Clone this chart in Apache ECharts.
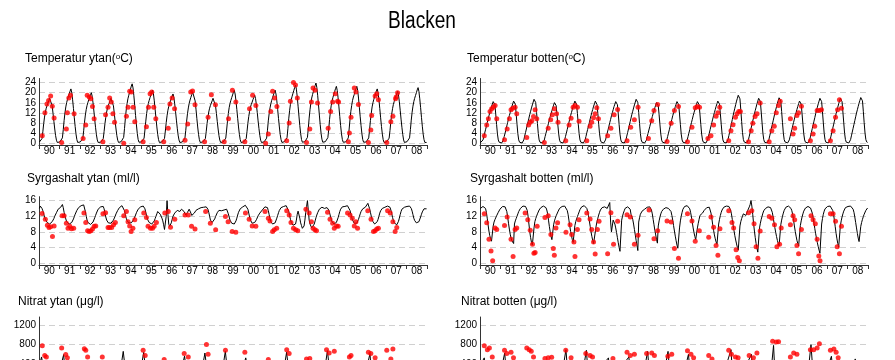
<!DOCTYPE html>
<html><head><meta charset="utf-8">
<script src="https://cdn.jsdelivr.net/npm/echarts@6/dist/echarts.min.js"></script>
<style>html,body{margin:0;padding:0;background:#fff}#c{width:895px;height:360px}</style>
</head><body><div id="c"></div>
<script>
// ---------- DATA ----------
const yearLabels = ['90','91','92','93','94','95','96','97','98','99','00','01','02','03','04','05','06','07','08'];
const tempTicks = [0,4,8,12,16,20,24];
const oxyTicks = [0,4,8,12,16];
const nitTicks = [0,400,800,1200];

// model lines, 24 values per year (semi-monthly), 1990-2008
const tempYtanLine = [
[0.6,0.2,0.4,1.9,4.6,7.8,10.4,12.4,13.9,15.0,15.9,16.8,17.8,18.5,17.2,14.8,11.8,8.7,5.7,3.1,1.3,0.4,0.2,0.4],
[0.6,0.2,0.4,2.2,5.4,9.0,12.0,14.4,16.1,17.4,18.5,19.6,20.6,21.5,20.0,17.2,13.8,10.1,6.7,3.7,1.5,0.4,0.2,0.4],
[0.6,0.2,0.4,2.0,5.0,8.4,11.2,13.4,15.0,16.2,17.2,18.2,19.2,20.0,18.6,16.0,12.8,9.4,6.2,3.4,1.4,0.4,0.2,0.4],
[0.5,0.2,0.3,1.9,4.7,7.8,10.3,12.4,13.9,15.0,15.9,16.9,17.8,18.5,17.1,14.8,11.8,8.7,5.7,3.1,1.3,0.4,0.2,0.4],
[0.7,0.2,0.5,2.4,5.9,9.9,13.2,15.7,17.6,19.0,20.2,21.4,22.6,23.5,21.9,18.8,15.0,11.0,7.3,4.0,1.6,0.5,0.2,0.5],
[0.6,0.2,0.4,2.1,5.3,8.8,11.8,14.1,15.8,17.0,18.1,19.1,20.2,21.0,19.5,16.8,13.4,9.9,6.5,3.6,1.5,0.4,0.2,0.4],
[0.6,0.2,0.4,2.0,4.9,8.2,10.9,13.1,14.6,15.8,16.8,17.7,18.7,19.5,18.1,15.6,12.5,9.2,6.0,3.3,1.4,0.4,0.2,0.4],
[0.6,0.2,0.4,2.1,5.2,8.8,11.7,14.0,15.8,17.1,18.2,19.2,20.3,21.0,19.6,16.8,13.5,9.9,6.5,3.6,1.5,0.4,0.2,0.4],
[0.6,0.2,0.4,1.9,4.6,7.8,10.4,12.4,13.9,15.0,15.9,16.8,17.8,18.5,17.2,14.8,11.8,8.7,5.7,3.1,1.3,0.4,0.2,0.4],
[0.6,0.2,0.4,2.1,5.3,8.8,11.8,14.1,15.8,17.0,18.1,19.1,20.2,21.0,19.5,16.8,13.4,9.9,6.5,3.6,1.5,0.4,0.2,0.4],
[0.6,0.2,0.4,1.9,4.8,8.0,10.6,12.7,14.3,15.4,16.3,17.3,18.2,19.0,17.7,15.2,12.2,8.9,5.9,3.2,1.3,0.4,0.2,0.4],
[0.6,0.2,0.4,2.1,5.2,8.9,11.8,14.0,15.7,17.0,18.0,19.1,20.1,21.0,19.5,16.8,13.4,9.8,6.5,3.5,1.5,0.4,0.2,0.4],
[0.7,0.2,0.5,2.3,5.8,9.7,12.9,15.4,17.3,18.6,19.8,20.9,22.1,23.0,21.4,18.4,14.7,10.8,7.1,3.9,1.6,0.5,0.2,0.5],
[0.7,0.2,0.5,2.4,6.0,10.0,13.3,15.9,17.9,19.3,20.5,21.7,22.8,23.8,22.1,19.0,15.2,11.2,7.4,4.0,1.7,0.5,0.2,0.5],
[0.7,0.2,0.5,2.3,5.6,9.5,12.6,15.1,16.9,18.2,19.4,20.5,21.6,22.5,20.9,18.0,14.4,10.6,7.0,3.8,1.6,0.5,0.2,0.5],
[0.6,0.2,0.5,2.2,5.7,9.4,12.7,15.0,17.0,18.3,19.3,20.6,21.5,22.5,21.0,17.9,14.3,10.5,7.0,3.8,1.5,0.5,0.2,0.5],
[0.6,0.2,0.4,2.2,5.4,9.0,12.0,14.4,16.1,17.4,18.5,19.6,20.6,21.5,20.0,17.2,13.8,10.1,6.7,3.7,1.5,0.4,0.2,0.4],
[0.6,0.2,0.4,2.1,5.1,8.6,11.5,13.7,15.4,16.6,17.6,18.7,19.7,20.5,19.1,16.4,13.1,9.6,6.4,3.5,1.4,0.4,0.2,0.4],
[0.7,0.2,0.4,2.2,5.5,9.2,12.3,14.7,16.5,17.8,18.9,20.0,21.1,22.0,20.5,17.6,14.1,10.3,6.8,3.7,1.5,0.4,0.2,0.4]
].flat();

const tempBottenLine = [
[0.3,0.2,0.3,1.4,2.7,4.1,5.4,6.8,8.2,9.5,10.9,12.1,13.3,14.5,15.5,16.5,17.0,15.3,11.6,7.5,3.7,1.4,0.5,0.3],
[0.3,0.2,0.3,1.4,2.8,4.1,5.5,6.9,8.3,9.6,11.0,12.2,13.4,14.6,15.7,16.7,17.2,15.5,11.7,7.6,3.8,1.4,0.5,0.3],
[0.4,0.2,0.4,1.4,2.9,4.3,5.7,7.2,8.6,10.0,11.5,12.7,14.0,15.2,16.3,17.4,17.9,16.1,12.2,7.9,3.9,1.4,0.5,0.4],
[0.3,0.2,0.3,1.3,2.7,4.0,5.3,6.6,8.0,9.3,10.6,11.8,12.9,14.1,15.1,16.1,16.6,14.9,11.3,7.3,3.7,1.3,0.5,0.3],
[0.3,0.2,0.3,1.4,2.8,4.1,5.5,6.9,8.3,9.6,11.0,12.2,13.4,14.6,15.7,16.7,17.2,15.5,11.7,7.6,3.8,1.4,0.5,0.3],
[0.3,0.2,0.3,1.4,2.7,4.2,5.5,6.9,8.2,9.7,11.0,12.3,13.4,14.7,15.6,16.7,17.2,15.4,11.8,7.6,3.8,1.4,0.5,0.3],
[0.3,0.2,0.3,1.4,2.7,4.1,5.4,6.8,8.2,9.5,10.9,12.1,13.3,14.5,15.5,16.5,17.0,15.3,11.6,7.5,3.7,1.4,0.5,0.3],
[0.4,0.2,0.4,1.4,2.9,4.3,5.7,7.2,8.6,10.0,11.5,12.7,14.0,15.2,16.3,17.4,17.9,16.1,12.2,7.9,3.9,1.4,0.5,0.4],
[0.3,0.2,0.3,1.3,2.7,4.0,5.3,6.6,8.0,9.3,10.6,11.8,12.9,14.1,15.1,16.1,16.6,14.9,11.3,7.3,3.7,1.3,0.5,0.3],
[0.3,0.2,0.3,1.4,2.7,4.1,5.4,6.8,8.2,9.5,10.9,12.1,13.3,14.5,15.5,16.5,17.0,15.3,11.6,7.5,3.7,1.4,0.5,0.3],
[0.3,0.2,0.3,1.4,2.7,4.1,5.4,6.8,8.2,9.5,10.9,12.1,13.3,14.5,15.5,16.5,17.0,15.3,11.6,7.5,3.7,1.4,0.5,0.3],
[0.3,0.2,0.3,1.4,2.8,4.1,5.5,6.9,8.3,9.6,11.0,12.2,13.4,14.6,15.7,16.7,17.2,15.5,11.7,7.6,3.8,1.4,0.5,0.3],
[0.4,0.2,0.4,1.6,3.1,4.7,6.3,7.8,9.4,11.0,12.5,13.9,15.3,16.7,17.8,19.0,19.6,17.6,13.3,8.6,4.3,1.6,0.6,0.4],
[0.4,0.2,0.4,1.5,2.9,4.4,5.9,7.3,8.8,10.2,11.7,13.0,14.3,15.6,16.7,17.8,18.3,16.5,12.4,8.1,4.0,1.5,0.5,0.4],
[0.4,0.2,0.4,1.5,3.0,4.5,6.0,7.4,8.9,10.4,11.9,13.2,14.5,15.8,16.9,18.0,18.6,16.7,12.6,8.2,4.1,1.5,0.6,0.4],
[0.3,0.2,0.3,1.4,2.8,4.1,5.5,6.9,8.3,9.6,11.0,12.2,13.4,14.6,15.7,16.7,17.2,15.5,11.7,7.6,3.8,1.4,0.5,0.3],
[0.4,0.2,0.4,1.5,2.9,4.4,5.9,7.3,8.8,10.2,11.7,13.0,14.3,15.6,16.7,17.8,18.3,16.5,12.4,8.1,4.0,1.5,0.5,0.4],
[0.4,0.2,0.4,1.5,2.9,4.4,5.9,7.3,8.8,10.2,11.7,13.0,14.3,15.6,16.7,17.8,18.3,16.5,12.4,8.1,4.0,1.5,0.5,0.4],
[0.4,0.2,0.4,1.5,3.0,4.5,6.0,7.5,9.0,10.5,12.0,13.3,14.6,15.9,17.0,18.1,18.7,16.8,12.7,8.2,4.1,1.5,0.6,0.4]
].flat();

const oxyYtanLine = [
[14.0,14.6,14.4,14.0,13.4,12.6,11.8,11.2,10.8,10.4,10.2,10.1,10.0,10.1,10.3,10.6,10.9,11.4,12.0,12.5,12.9,13.4,13.8,14.0],
[14.2,14.3,14.6,15.0,14.2,13.0,12.1,11.3,10.6,10.3,10.1,10.0,10.0,10.2,10.4,10.8,11.3,11.9,12.5,13.0,13.5,13.9,14.2,14.4],
[14.5,14.7,14.8,15.0,14.9,14.5,13.2,12.0,11.0,10.4,10.1,10.0,9.9,10.0,10.2,10.5,11.0,11.6,12.2,12.8,13.3,13.8,14.1,14.3],
[14.4,14.6,14.7,14.5,13.9,12.8,11.8,11.0,10.6,10.3,10.2,10.1,10.2,10.4,10.6,11.0,11.5,12.0,12.6,13.1,13.5,13.9,14.2,14.4],
[14.5,14.7,14.6,14.2,13.4,12.4,11.5,10.9,10.5,10.3,10.2,10.2,10.3,10.5,10.8,11.2,11.7,12.3,12.9,13.4,13.8,14.1,14.3,14.4],
[14.5,14.7,14.6,14.4,13.9,13.0,12.0,11.2,10.7,10.4,10.2,10.0,10.0,10.1,10.4,10.8,11.4,12.0,12.6,13.2,13.4,13.0,12.5,12.0],
[11.5,10.8,9.8,8.6,8.2,12.0,16.0,12.5,10.0,9.4,9.6,10.3,11.2,12.0,12.5,12.8,13.0,13.3,13.5,13.6,13.5,13.2,13.4,13.8],
[13.8,13.5,13.2,12.8,12.3,12.6,13.0,13.5,13.8,13.4,12.8,12.2,12.0,12.3,12.8,13.2,13.5,13.6,13.8,13.9,14.0,14.1,14.2,14.3],
[14.2,14.3,14.4,14.5,14.4,14.2,13.8,13.0,12.0,11.0,10.5,10.4,10.5,10.8,11.3,11.9,12.4,12.9,13.2,13.5,13.6,13.5,13.4,13.6],
[13.8,13.6,13.9,14.0,13.8,13.3,12.6,11.8,11.0,10.5,10.2,10.0,9.9,10.0,10.3,10.8,11.5,12.3,13.0,13.5,13.9,14.1,14.3,14.4],
[14.5,14.6,14.8,15.0,14.6,13.8,12.8,11.8,11.0,10.5,10.2,10.1,10.2,10.4,10.7,11.1,11.6,12.1,12.5,12.8,13.0,13.3,13.6,13.9],
[14.1,14.4,14.5,14.6,14.2,13.4,12.4,11.4,10.6,10.2,10.0,9.9,10.0,10.3,10.8,11.5,12.2,12.9,13.5,14.0,14.2,14.3,14.4,14.5],
[14.5,14.6,14.7,14.6,14.2,13.3,12.2,11.2,10.4,10.0,9.7,9.5,9.6,10.0,11.0,12.5,13.3,12.8,11.5,10.3,9.6,8.9,8.5,9.5],
[11.0,13.0,14.5,16.0,13.5,11.0,10.0,9.5,9.0,9.0,9.4,10.0,10.8,11.6,12.3,12.9,13.4,13.8,14.1,14.3,14.3,14.2,14.1,14.0],
[14.0,14.1,14.2,14.0,13.6,12.9,12.0,11.2,10.6,10.2,10.0,10.0,10.1,10.4,10.9,11.6,12.4,13.2,13.8,14.2,14.4,14.5,14.5,14.5],
[14.5,14.6,14.7,14.6,14.2,13.5,12.6,11.7,11.0,10.5,10.2,10.0,10.0,10.2,10.6,11.2,11.9,12.6,13.2,13.6,13.9,14.1,14.2,14.3],
[14.4,14.5,15.3,14.6,14.0,13.0,12.0,11.2,10.6,10.2,10.0,10.0,10.2,10.6,11.2,12.0,12.8,13.4,13.8,14.0,14.1,14.2,14.3,14.4],
[14.5,14.6,14.7,14.6,14.3,13.6,12.7,11.7,10.9,10.3,10.0,9.8,9.8,10.1,10.7,11.5,12.4,13.2,13.8,14.1,14.2,14.3,14.4,14.5],
[14.5,14.6,14.7,14.6,14.4,14.0,13.3,12.4,11.5,10.9,10.5,10.3,10.2,10.3,10.6,11.1,11.8,12.5,13.1,13.6,13.9,14.0,14.0,13.9]
].flat();

const oxyBottenLine = [
[14.0,14.2,14.4,14.5,14.3,14.4,14.0,13.0,11.5,9.8,8.2,7.0,6.2,5.6,5.5,9.5,10.5,11.1,11.6,12.1,12.6,13.0,13.4,13.8],
[14.0,14.3,14.5,14.2,14.6,14.4,14.0,13.2,11.8,10.2,8.7,7.4,6.4,5.7,5.2,5.0,10.0,10.8,11.4,12.0,12.6,13.2,13.7,14.0],
[14.2,14.5,14.6,14.7,14.6,14.5,14.2,13.5,12.0,10.0,8.0,6.5,5.3,4.6,4.5,9.0,10.6,11.4,12.0,12.6,13.1,13.6,14.0,14.2],
[14.3,14.5,14.6,14.5,14.4,14.2,13.6,12.6,11.0,9.4,8.0,6.8,6.0,5.5,9.8,10.8,11.5,12.1,12.6,13.1,13.6,14.0,14.3,14.4],
[14.5,14.6,14.5,14.6,14.4,14.1,13.5,12.5,11.0,9.5,8.1,7.0,6.0,5.3,5.0,9.6,10.6,11.3,11.9,12.5,13.1,13.7,14.1,14.4],
[14.5,14.6,14.7,14.6,14.4,14.0,13.3,12.2,10.8,9.4,8.0,6.8,5.8,5.0,4.6,4.5,9.5,10.6,11.5,12.3,13.0,13.6,14.0,14.2],
[14.0,14.2,14.4,14.3,14.5,14.0,13.5,14.5,15.5,10.5,8.0,9.5,11.0,10.8,10.0,9.0,7.8,6.5,5.2,4.0,3.0,2.5,11.0,12.0],
[12.8,13.4,14.0,14.3,14.5,14.4,14.2,14.3,13.8,12.5,12.0,11.2,10.0,8.6,7.2,5.8,4.5,3.2,10.5,11.6,12.5,13.0,13.3,13.5],
[13.6,13.8,13.9,14.1,14.3,14.4,14.5,14.4,14.2,13.6,12.6,11.2,9.8,8.4,7.2,6.0,5.1,9.5,10.8,11.8,12.6,13.2,13.6,13.8],
[14.0,14.1,14.2,14.0,13.8,14.0,14.1,13.8,13.2,12.2,11.0,9.6,8.2,6.9,5.7,4.6,3.8,3.5,9.0,10.8,12.0,13.0,13.8,14.3],
[14.5,14.6,14.8,14.7,14.6,14.4,13.9,13.0,11.8,10.4,9.0,7.8,6.8,6.0,5.5,9.0,10.2,11.2,12.2,12.6,12.2,12.8,13.3,13.5],
[13.8,14.0,14.2,14.4,14.5,14.3,13.8,12.8,11.4,9.8,8.4,7.2,6.2,5.4,4.8,4.5,10.0,11.2,12.2,13.0,13.6,14.0,14.3,14.5],
[14.5,14.6,14.7,14.6,14.5,14.2,13.6,12.6,11.2,9.7,8.3,7.0,5.9,4.9,4.0,3.3,3.0,9.5,10.6,11.4,12.0,12.6,13.0,12.8],
[12.2,12.8,13.4,13.8,14.4,15.0,16.0,14.6,12.5,10.2,8.2,6.5,5.0,3.8,2.8,2.5,9.0,10.2,11.2,12.0,12.8,13.4,13.8,14.0],
[14.2,14.3,14.4,14.5,14.4,14.2,13.8,13.0,11.8,10.4,9.1,7.9,6.8,5.8,5.0,4.4,4.0,9.8,11.0,12.0,12.8,13.5,14.0,14.3],
[14.4,14.5,14.6,14.5,14.3,14.0,13.4,12.4,11.0,9.5,8.1,6.9,5.8,5.0,4.4,4.0,9.6,10.8,11.8,12.6,13.3,13.8,14.1,14.3],
[14.4,14.5,14.3,14.4,14.1,13.6,12.8,11.6,10.2,8.8,7.5,6.3,5.2,4.2,3.3,2.5,2.0,10.0,11.4,12.5,13.3,13.9,14.2,14.4],
[14.5,14.6,14.7,14.6,14.4,14.1,13.5,12.5,11.0,9.3,7.6,6.2,5.0,4.0,3.5,9.5,10.8,11.8,12.6,13.3,13.8,14.2,14.4,14.5],
[14.5,14.6,14.7,14.6,14.5,14.3,13.8,13.0,11.8,10.4,9.0,7.6,6.4,5.5,5.0,9.4,10.4,11.2,11.9,12.5,13.0,13.5,13.9,14.1]
].flat();

// nitrate model lines, 12 values per year (monthly)
const nitYtanLine = [
[400,544,320,90,20,10,10,20,60,150,260,340],
[380,450,594,120,20,10,10,20,60,140,240,330],
[370,420,300,90,20,10,10,20,60,150,250,330],
[380,440,310,90,20,10,10,20,60,150,250,340],
[420,661,350,100,20,10,10,20,60,150,260,350],
[420,641,330,90,20,10,10,20,60,150,250,330],
[360,420,300,90,20,10,10,20,60,140,240,320],
[400,560,320,90,20,10,10,20,60,150,250,340],
[420,627,330,90,20,10,10,20,60,150,260,350],
[430,661,330,90,20,10,10,20,60,150,250,340],
[400,525,320,90,20,10,10,20,60,150,250,330],
[380,440,300,90,20,10,10,20,60,150,250,330],
[420,641,330,90,20,10,10,20,60,150,260,350],
[390,450,310,90,20,10,10,20,60,150,260,350],
[430,675,340,100,20,10,10,20,60,150,250,330],
[380,440,300,90,20,10,10,20,60,150,250,340],
[390,460,614,120,20,10,10,20,60,150,250,330],
[380,450,310,90,20,10,10,20,60,150,250,330],
[380,440,300,90,20,10,10,20,60,150,250,330]
].flat();

const nitBottenLine = [
[400,460,525,200,60,30,30,50,100,180,270,340],
[380,450,627,220,60,30,30,50,100,180,260,330],
[370,440,430,200,60,30,30,50,100,180,260,330],
[380,450,440,200,60,30,30,50,100,180,260,340],
[400,470,696,230,60,30,30,50,100,180,270,350],
[400,460,683,220,60,30,30,50,100,180,260,330],
[370,440,420,525,80,30,30,50,100,180,250,320],
[380,450,430,545,80,30,30,50,100,180,260,340],
[400,460,661,220,60,30,30,50,100,180,270,350],
[400,470,661,220,60,30,30,50,100,180,260,340],
[390,450,600,210,60,30,30,50,100,180,260,330],
[380,440,430,200,60,30,30,50,100,180,260,330],
[400,460,450,696,90,30,30,50,100,180,270,350],
[390,450,440,600,80,30,30,50,100,180,270,350],
[400,460,480,420,786,60,30,50,100,180,260,330],
[380,440,430,200,60,30,30,50,100,180,260,340],
[390,460,800,300,60,30,30,50,100,180,260,330],
[380,450,558,200,60,30,30,50,100,180,260,330],
[380,440,420,300,503,60,30,50,100,180,260,330]
].flat();

// measurements [decimal year, value]
const tempYtanObs = [
[1990.16,3.0],[1990.29,12.1],[1990.39,15.6],[1990.47,16.9],[1990.57,18.7],[1990.65,14.7],[1990.74,10.0],
[1991.11,0.4],[1991.34,5.7],[1991.39,12.1],[1991.46,17.9],[1991.54,19.0],[1991.72,11.7],
[1992.16,2.0],[1992.29,7.3],[1992.36,19.0],[1992.46,18.3],[1992.54,17.6],[1992.62,14.6],[1992.70,9.7],
[1993.13,0.7],[1993.26,11.3],[1993.38,14.3],[1993.46,17.9],[1993.54,16.3],[1993.62,11.7],[1993.70,8.4],
[1994.15,0.1],[1994.28,10.7],[1994.36,14.3],[1994.44,20.6],[1994.52,20.3],[1994.61,14.3],[1994.69,8.6],
[1995.10,0.7],[1995.26,6.6],[1995.36,14.3],[1995.44,19.6],[1995.52,20.3],[1995.62,14.3],[1995.72,9.7],
[1996.11,0.7],[1996.33,6.0],[1996.41,15.6],[1996.52,17.9],[1996.64,13.7],
[1997.15,1.3],[1997.28,7.7],[1997.43,20.3],[1997.52,20.7],[1997.64,15.3],
[1998.11,0.7],[1998.28,10.3],[1998.44,19.2],[1998.64,15.3],
[1999.07,0.7],[1999.28,9.7],[1999.47,21.0],[1999.64,16.3],
[2000.08,0.7],[2000.31,13.7],[2000.46,19.0],[2000.62,15.0],
[2001.10,0.1],[2001.23,3.7],[2001.35,12.6],[2001.44,20.6],[2001.54,17.9],[2001.65,14.6],
[2002.13,1.1],[2002.25,8.1],[2002.31,16.6],[2002.46,24.0],[2002.56,23.0],[2002.65,17.9],
[2003.10,0.4],[2003.26,5.7],[2003.34,16.3],[2003.42,21.9],[2003.52,21.0],[2003.64,15.9],
[2004.16,6.0],[2004.28,12.6],[2004.38,16.3],[2004.51,19.6],[2004.62,16.6],[2004.67,16.3],
[2005.15,0.7],[2005.20,4.1],[2005.28,10.3],[2005.44,21.9],[2005.52,20.3],[2005.64,15.4],
[2006.13,0.4],[2006.25,5.3],[2006.29,11.0],[2006.46,18.7],[2006.54,19.6],[2006.62,17.2],
[2007.03,0.4],[2007.23,8.6],[2007.33,10.7],[2007.46,17.6],[2007.49,18.3],[2007.56,20.0]
];

const tempBottenObs = [
[1990.21,3.0],[1990.33,7.3],[1990.41,9.7],[1990.49,12.6],[1990.57,13.7],[1990.65,14.3],[1990.74,15.0],[1990.82,9.7],
[1991.20,1.5],[1991.33,5.7],[1991.44,9.7],[1991.52,13.3],[1991.60,13.9],[1991.72,14.3],[1991.80,11.7],
[1992.29,2.4],[1992.38,7.3],[1992.46,8.4],[1992.54,9.0],[1992.62,10.6],[1992.70,13.3],[1992.78,9.7],
[1993.15,0.4],[1993.34,6.0],[1993.46,9.3],[1993.54,11.3],[1993.64,13.7],[1993.75,11.7],[1993.82,8.4],
[1994.20,1.1],[1994.36,7.3],[1994.46,9.9],[1994.56,14.3],[1994.65,15.0],[1994.77,14.3],[1994.85,8.8],
[1995.23,1.1],[1995.39,6.8],[1995.47,8.4],[1995.56,10.1],[1995.64,11.7],[1995.72,14.1],[1995.80,9.7],
[1996.25,3.0],[1996.41,6.0],[1996.57,11.3],[1996.74,13.4],
[1997.20,1.1],[1997.38,6.4],[1997.56,9.3],[1997.74,14.3],
[1998.25,2.0],[1998.41,9.0],[1998.52,13.0],[1998.70,15.4],
[1999.16,0.8],[1999.36,8.0],[1999.52,13.0],[1999.72,14.6],
[2000.16,0.7],[2000.38,6.4],[2000.54,14.1],[2000.64,14.6],[2000.75,14.3],
[2001.16,2.0],[2001.31,3.0],[2001.44,7.3],[2001.56,10.7],[2001.65,12.1],[2001.74,14.3],
[2002.18,1.1],[2002.29,5.0],[2002.39,7.4],[2002.51,10.3],[2002.59,11.7],[2002.67,12.6],[2002.75,12.6],
[2003.15,0.7],[2003.28,5.0],[2003.36,8.0],[2003.47,10.6],[2003.57,11.7],[2003.72,15.9],
[2004.16,0.7],[2004.29,5.0],[2004.41,6.8],[2004.51,12.1],[2004.62,15.0],[2004.70,16.6],
[2005.20,9.7],[2005.33,3.7],[2005.41,6.0],[2005.52,11.0],[2005.60,12.1],[2005.74,14.7],
[2006.18,1.1],[2006.31,3.7],[2006.39,6.8],[2006.51,13.0],[2006.62,13.0],[2006.72,13.3],
[2007.16,1.1],[2007.29,5.0],[2007.41,10.3],[2007.51,13.3],[2007.60,17.2],[2007.70,13.9]
];

const oxyYtanObs = [
[1990.15,12.7],[1990.31,11.2],[1990.41,9.7],[1990.49,9.1],[1990.57,9.3],[1990.66,6.8],[1990.74,9.5],
[1991.13,12.1],[1991.23,12.1],[1991.34,10.2],[1991.42,8.9],[1991.51,9.4],[1991.59,8.8],[1991.70,8.9],
[1992.20,12.8],[1992.29,10.4],[1992.38,8.3],[1992.46,8.1],[1992.54,8.3],[1992.62,8.7],[1992.70,9.4],[1992.78,9.5],
[1993.13,12.6],[1993.26,12.9],[1993.38,9.1],[1993.46,9.1],[1993.56,9.1],[1993.65,9.8],[1993.74,10.4],
[1994.15,12.1],[1994.28,13.2],[1994.36,10.6],[1994.44,9.5],[1994.51,8.1],[1994.60,8.9],[1994.69,11.1],
[1995.13,12.8],[1995.26,11.7],[1995.34,9.4],[1995.46,8.9],[1995.56,8.9],[1995.64,9.4],[1995.75,10.4],
[1996.16,12.8],[1996.33,13.2],[1996.44,9.2],[1996.65,11.2],
[1997.15,12.3],[1997.31,12.3],[1997.47,9.4],[1997.64,8.7],
[1998.16,13.2],[1998.39,10.2],[1998.65,8.5],
[1999.13,11.9],[1999.26,10.6],[1999.46,8.1],[1999.64,7.9],
[2000.11,12.8],[2000.29,11.2],[2000.44,9.5],[2000.62,9.4],
[2001.07,13.2],[2001.23,11.5],[2001.31,10.8],[2001.44,8.1],[2001.52,8.5],[2001.64,8.9],
[2002.13,13.4],[2002.25,12.3],[2002.34,10.4],[2002.46,8.9],[2002.57,8.5],[2002.67,8.3],
[2003.07,13.8],[2003.23,12.8],[2003.34,10.6],[2003.42,8.9],[2003.51,8.5],[2003.59,8.3],
[2004.13,13.0],[2004.25,11.2],[2004.38,10.2],[2004.46,8.9],[2004.57,9.5],[2004.65,9.4],
[2005.11,12.8],[2005.23,12.3],[2005.34,11.5],[2005.44,9.5],[2005.52,10.6],[2005.60,8.9],
[2006.10,13.4],[2006.26,11.2],[2006.38,8.1],[2006.46,8.3],[2006.54,8.7],[2006.62,8.9],
[2007.07,13.4],[2007.20,12.8],[2007.33,10.6],[2007.44,8.1],[2007.52,9.1]
];

const oxyBottenObs = [
[1990.21,12.6],[1990.33,10.3],[1990.44,6.1],[1990.54,3.1],[1990.62,0.6],[1990.74,9.0],[1990.82,8.6],
[1991.20,9.6],[1991.33,11.8],[1991.52,6.1],[1991.62,1.7],[1991.72,8.6],[1991.80,9.0],
[1992.21,12.8],[1992.34,11.1],[1992.46,8.4],[1992.57,4.8],[1992.64,2.5],[1992.70,2.7],[1992.80,9.4],
[1993.18,11.7],[1993.34,12.1],[1993.47,7.3],[1993.59,3.7],[1993.64,2.0],[1993.72,9.0],[1993.80,10.3],
[1994.21,7.9],[1994.41,9.8],[1994.49,7.3],[1994.60,5.4],[1994.65,1.7],[1994.77,8.6],[1994.85,11.1],
[1995.23,12.8],[1995.39,11.3],[1995.47,8.6],[1995.56,5.4],[1995.64,2.3],[1995.75,8.6],[1995.83,10.7],
[1996.25,2.4],[1996.41,12.9],[1996.54,4.8],[1996.74,10.7],
[1997.20,12.4],[1997.36,11.8],[1997.56,4.8],[1997.74,7.1],
[1998.28,13.6],[1998.52,6.2],[1998.70,8.3],
[1999.16,10.8],[1999.36,10.5],[1999.52,3.7],[1999.72,1.2],
[2000.16,12.6],[2000.38,10.8],[2000.54,5.6],[2000.74,8.3],
[2001.20,6.6],[2001.31,11.8],[2001.44,9.2],[2001.56,4.5],[2001.65,2.0],[2001.75,8.8],
[2002.18,13.4],[2002.34,10.4],[2002.42,9.0],[2002.54,3.4],[2002.62,1.4],[2002.70,0.6],
[2003.15,12.9],[2003.31,13.4],[2003.42,10.1],[2003.52,4.2],[2003.61,1.2],[2003.72,8.2],
[2004.16,11.9],[2004.29,11.5],[2004.42,9.8],[2004.54,4.2],[2004.67,4.8],[2004.75,9.0],
[2005.20,9.8],[2005.33,12.1],[2005.41,11.1],[2005.52,4.5],[2005.60,2.4],[2005.74,8.6],
[2006.21,12.1],[2006.31,11.1],[2006.42,10.1],[2006.51,6.1],[2006.59,1.8],[2006.65,0.6],
[2007.16,12.6],[2007.29,12.6],[2007.41,10.7],[2007.49,4.2],[2007.60,2.4],[2007.70,9.4]
];

const nitYtanObs = [
[1990.16,779],[1990.28,572],[1990.36,544],
[1991.11,731],[1991.31,594],[1991.39,525],
[1992.22,717],[1992.29,683],[1992.38,544],
[1993.10,544],
[1995.10,683],[1995.20,572],
[1996.13,489],
[1997.11,614],[1997.31,544],
[1998.20,806],[1998.28,600],
[1999.13,683],
[2000.08,641],
[2001.23,489],
[2002.13,696],[2002.25,614],
[2003.10,503],[2003.26,510],
[2004.08,696],[2004.21,627],[2004.46,661],
[2005.20,544],[2005.28,572],
[2006.13,641],[2006.25,614],[2006.46,525],
[2007.03,683],[2007.23,503],[2007.33,710]
];

const nitBottenObs = [
[1990.21,779],[1990.36,696],[1990.46,731],[1990.60,544],
[1991.20,683],[1991.31,614],[1991.52,641],[1991.64,525],
[1992.29,731],[1992.41,696],[1992.51,661],[1992.62,544],
[1993.18,510],[1993.34,525],[1993.51,537],
[1994.20,683],[1994.46,525],
[1995.18,614],[1995.39,572],[1995.51,544],
[1996.51,510],
[1997.20,641],[1997.36,572],[1997.56,600],
[1998.16,614],[1998.41,627],[1998.54,572],
[1999.20,558],[1999.39,600],
[2000.16,676],[2000.33,600],[2000.46,525],
[2001.20,572],[2001.36,503],
[2002.18,683],[2002.31,600],[2002.51,544],[2002.64,525],
[2003.18,572],[2003.39,525],[2003.56,627],
[2004.33,875],[2004.51,855],[2004.62,862],
[2005.20,544],[2005.36,627],[2005.52,600],
[2006.18,696],[2006.34,696],[2006.51,731],[2006.62,820],
[2007.16,683],[2007.33,710],[2007.44,641],[2007.54,525]
];

// ---------- CHART ----------
const FONT = '"Liberation Sans", Arial, sans-serif';

const panels = [
  {line: tempYtanLine, per: 24, obs: tempYtanObs, ticks: tempTicks, min: -0.6, max: 25.6, grid: {left: 39, top: 78.5, width: 388, height: 66.5}},
  {line: tempBottenLine, per: 24, obs: tempBottenObs, ticks: tempTicks, min: -0.6, max: 25.6, grid: {left: 480, top: 78.5, width: 388, height: 66.5}},
  {line: oxyYtanLine, per: 24, obs: oxyYtanObs, ticks: oxyTicks, min: -0.5, max: 17, grid: {left: 39, top: 196.7, width: 388, height: 68.3}},
  {line: oxyBottenLine, per: 24, obs: oxyBottenObs, ticks: oxyTicks, min: -0.5, max: 17, grid: {left: 480, top: 196.7, width: 388, height: 68.3}},
  {line: nitYtanLine, per: 12, obs: nitYtanObs, ticks: nitTicks, min: -30, max: 1380, grid: {left: 39, top: 317, width: 388, height: 67.4}},
  {line: nitBottenLine, per: 12, obs: nitBottenObs, ticks: nitTicks, min: -30, max: 1380, grid: {left: 480, top: 317, width: 388, height: 67.4}}
];

const grid = [], xAxis = [], yAxis = [], series = [];
panels.forEach((p, k) => {
  grid.push(Object.assign({containLabel: false, outerBoundsMode: 'none'}, p.grid));
  xAxis.push({
    type: 'category', gridIndex: k, data: yearLabels, boundaryGap: true, position: 'bottom',
    axisLine: {show: true, onZero: false, lineStyle: {color: '#333', width: 1}},
    axisTick: {show: true, length: 4, interval: 0, lineStyle: {color: '#333'}},
    axisLabel: {interval: 0, margin: 1, fontSize: 10, fontFamily: FONT, color: '#000'},
    splitLine: {show: false}
  });
  xAxis.push({type: 'value', gridIndex: k, min: 1990, max: 2009, show: false});
  yAxis.push({
    type: 'value', gridIndex: k, min: p.min, max: p.max,
    axisLine: {show: true, onZero: false, lineStyle: {color: '#333', width: 1}},
    axisTick: {show: false, customValues: p.ticks},
    axisLabel: {customValues: p.ticks, margin: 3, fontSize: 10, fontFamily: FONT, color: '#000',
      formatter: v => String(v)},
    splitLine: {show: true, lineStyle: {color: '#d0d0d0', type: [6, 4], width: 1}}
  });
  series.push({
    type: 'line', xAxisIndex: 2 * k + 1, yAxisIndex: k,
    data: p.line.map((v, i) => [1990 + (i + 0.5) / p.per, v]),
    symbol: 'none', showSymbol: false, clip: true, silent: true,
    lineStyle: {color: '#000', width: 1}, z: 2
  });
  series.push({
    type: 'scatter', xAxisIndex: 2 * k + 1, yAxisIndex: k,
    data: p.obs, symbol: 'circle', symbolSize: 5, clip: true, silent: true,
    itemStyle: {color: '#ff0000'}, z: 3
  });
});

function titleText(x, y, text) {
  return {type: 'text', x: x, y: y, silent: true, style: {
    text: text, font: '12px ' + FONT, fill: '#000',
    textVerticalAlign: 'middle', verticalAlign: 'middle',
    rich: {s: {fontSize: 8, fontFamily: FONT, fill: '#000', verticalAlign: 'top'}}
  }};
}

const chart = echarts.init(document.getElementById('c'), null, {renderer: 'canvas'});
chart.setOption({
  animation: false,
  backgroundColor: '#fff',
  grid, xAxis, yAxis, series,
  graphic: [
    {type: 'text', x: 422, y: 22, scaleX: 0.83, silent: true, style: {text: 'Blacken', font: '23px ' + FONT, fill: '#000',
      textAlign: 'center', align: 'center', textVerticalAlign: 'middle', verticalAlign: 'middle'}},
    titleText(25, 59, 'Temperatur ytan({s|o}C)'),
    titleText(467, 59, 'Temperatur botten({s|o}C)'),
    titleText(27, 179, 'Syrgashalt ytan (ml/l)'),
    titleText(470, 179, 'Syrgashalt botten (ml/l)'),
    titleText(18, 302, 'Nitrat ytan (μg/l)'),
    titleText(461, 302, 'Nitrat botten (μg/l)')
  ]
});
</script>
</body></html>
